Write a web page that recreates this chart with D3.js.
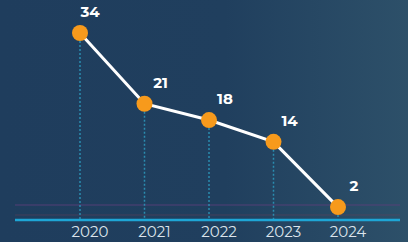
<!DOCTYPE html>
<html>
<head>
<meta charset="utf-8">
<script src="https://cdn.jsdelivr.net/npm/d3@7"></script>
<style>
  html, body { margin: 0; padding: 0; background: #1f3d5d; }
  svg { display: block; }
</style>
</head>
<body>
<div id="chart"></div>
<script>
var years = ["2020", "2021", "2022", "2023", "2024"];
var values = [34, 21, 18, 14, 2];

var width = 408;
var height = 242;

var svg = d3.select("#chart")
  .append("svg")
  .attr("width", width)
  .attr("height", height);

// background with a lighter patch on the right
var defs = svg.append("defs");
var grad = defs.append("linearGradient")
  .attr("id", "bg")
  .attr("x1", "0%").attr("y1", "0%")
  .attr("x2", "100%").attr("y2", "0%");
grad.append("stop").attr("offset", "0%").attr("stop-color", "#1f3d5d");
grad.append("stop").attr("offset", "55%").attr("stop-color", "#203f5e");
grad.append("stop").attr("offset", "100%").attr("stop-color", "#2d5069");

svg.append("rect")
  .attr("width", width)
  .attr("height", height)
  .attr("fill", "url(#bg)");

var x = d3.scalePoint()
  .domain(years)
  .range([80, 338]);

var y = d3.scaleLinear()
  .domain([0, 34])
  .range([218, 33]);

// faint horizontal streaks above the axis
svg.append("line")
  .attr("x1", 15).attr("x2", 400)
  .attr("y1", 205).attr("y2", 205)
  .attr("stroke", "#5a3f7a")
  .attr("stroke-opacity", 0.6)
  .attr("stroke-width", 1.5);

svg.append("line")
  .attr("x1", 15).attr("x2", 400)
  .attr("y1", 215).attr("y2", 215)
  .attr("stroke", "#6a3f5a")
  .attr("stroke-opacity", 0.5)
  .attr("stroke-width", 1);

// dashed drop lines
svg.append("g")
  .selectAll("line")
  .data(values)
  .enter().append("line")
  .attr("x1", function (d, i) { return x(years[i]); })
  .attr("x2", function (d, i) { return x(years[i]); })
  .attr("y1", function (d) { return y(d); })
  .attr("y2", 220)
  .attr("stroke", "#2a8caf")
  .attr("stroke-width", 1.5)
  .attr("stroke-dasharray", "2,2");

// axis line
svg.append("line")
  .attr("x1", 15).attr("x2", 400)
  .attr("y1", 220).attr("y2", 220)
  .attr("stroke", "#1ea6d6")
  .attr("stroke-width", 2.5);

// year labels
svg.append("g")
  .selectAll("text")
  .data(years)
  .enter().append("text")
  .attr("x", function (d) { return x(d) + 10; })
  .attr("y", 237)
  .attr("text-anchor", "middle")
  .attr("fill", "#dce4ec")
  .style("font-family", "Montserrat, 'Open Sans', sans-serif")
  .style("font-size", "15px")
  .text(function (d) { return d; });

// the line
var line = d3.line()
  .x(function (d, i) { return x(years[i]); })
  .y(function (d) { return y(d); });

svg.append("path")
  .datum(values)
  .attr("d", line)
  .attr("fill", "none")
  .attr("stroke", "#ffffff")
  .attr("stroke-width", 3);

// points
svg.append("g")
  .selectAll("circle")
  .data(values)
  .enter().append("circle")
  .attr("cx", function (d, i) { return x(years[i]); })
  .attr("cy", function (d) { return y(d); })
  .attr("r", 8)
  .attr("fill", "#f79a1c");

// value labels
svg.append("g")
  .selectAll("text")
  .data(values)
  .enter().append("text")
  .attr("x", function (d, i) { return x(years[i]) + (i === 0 ? 10 : 16); })
  .attr("y", function (d) { return y(d) - 16; })
  .attr("text-anchor", "middle")
  .attr("fill", "#ffffff")
  .style("font-family", "Montserrat, 'Open Sans', sans-serif")
  .style("font-weight", "bold")
  .style("font-size", "15px")
  .text(function (d) { return d; });
</script>
</body>
</html>
